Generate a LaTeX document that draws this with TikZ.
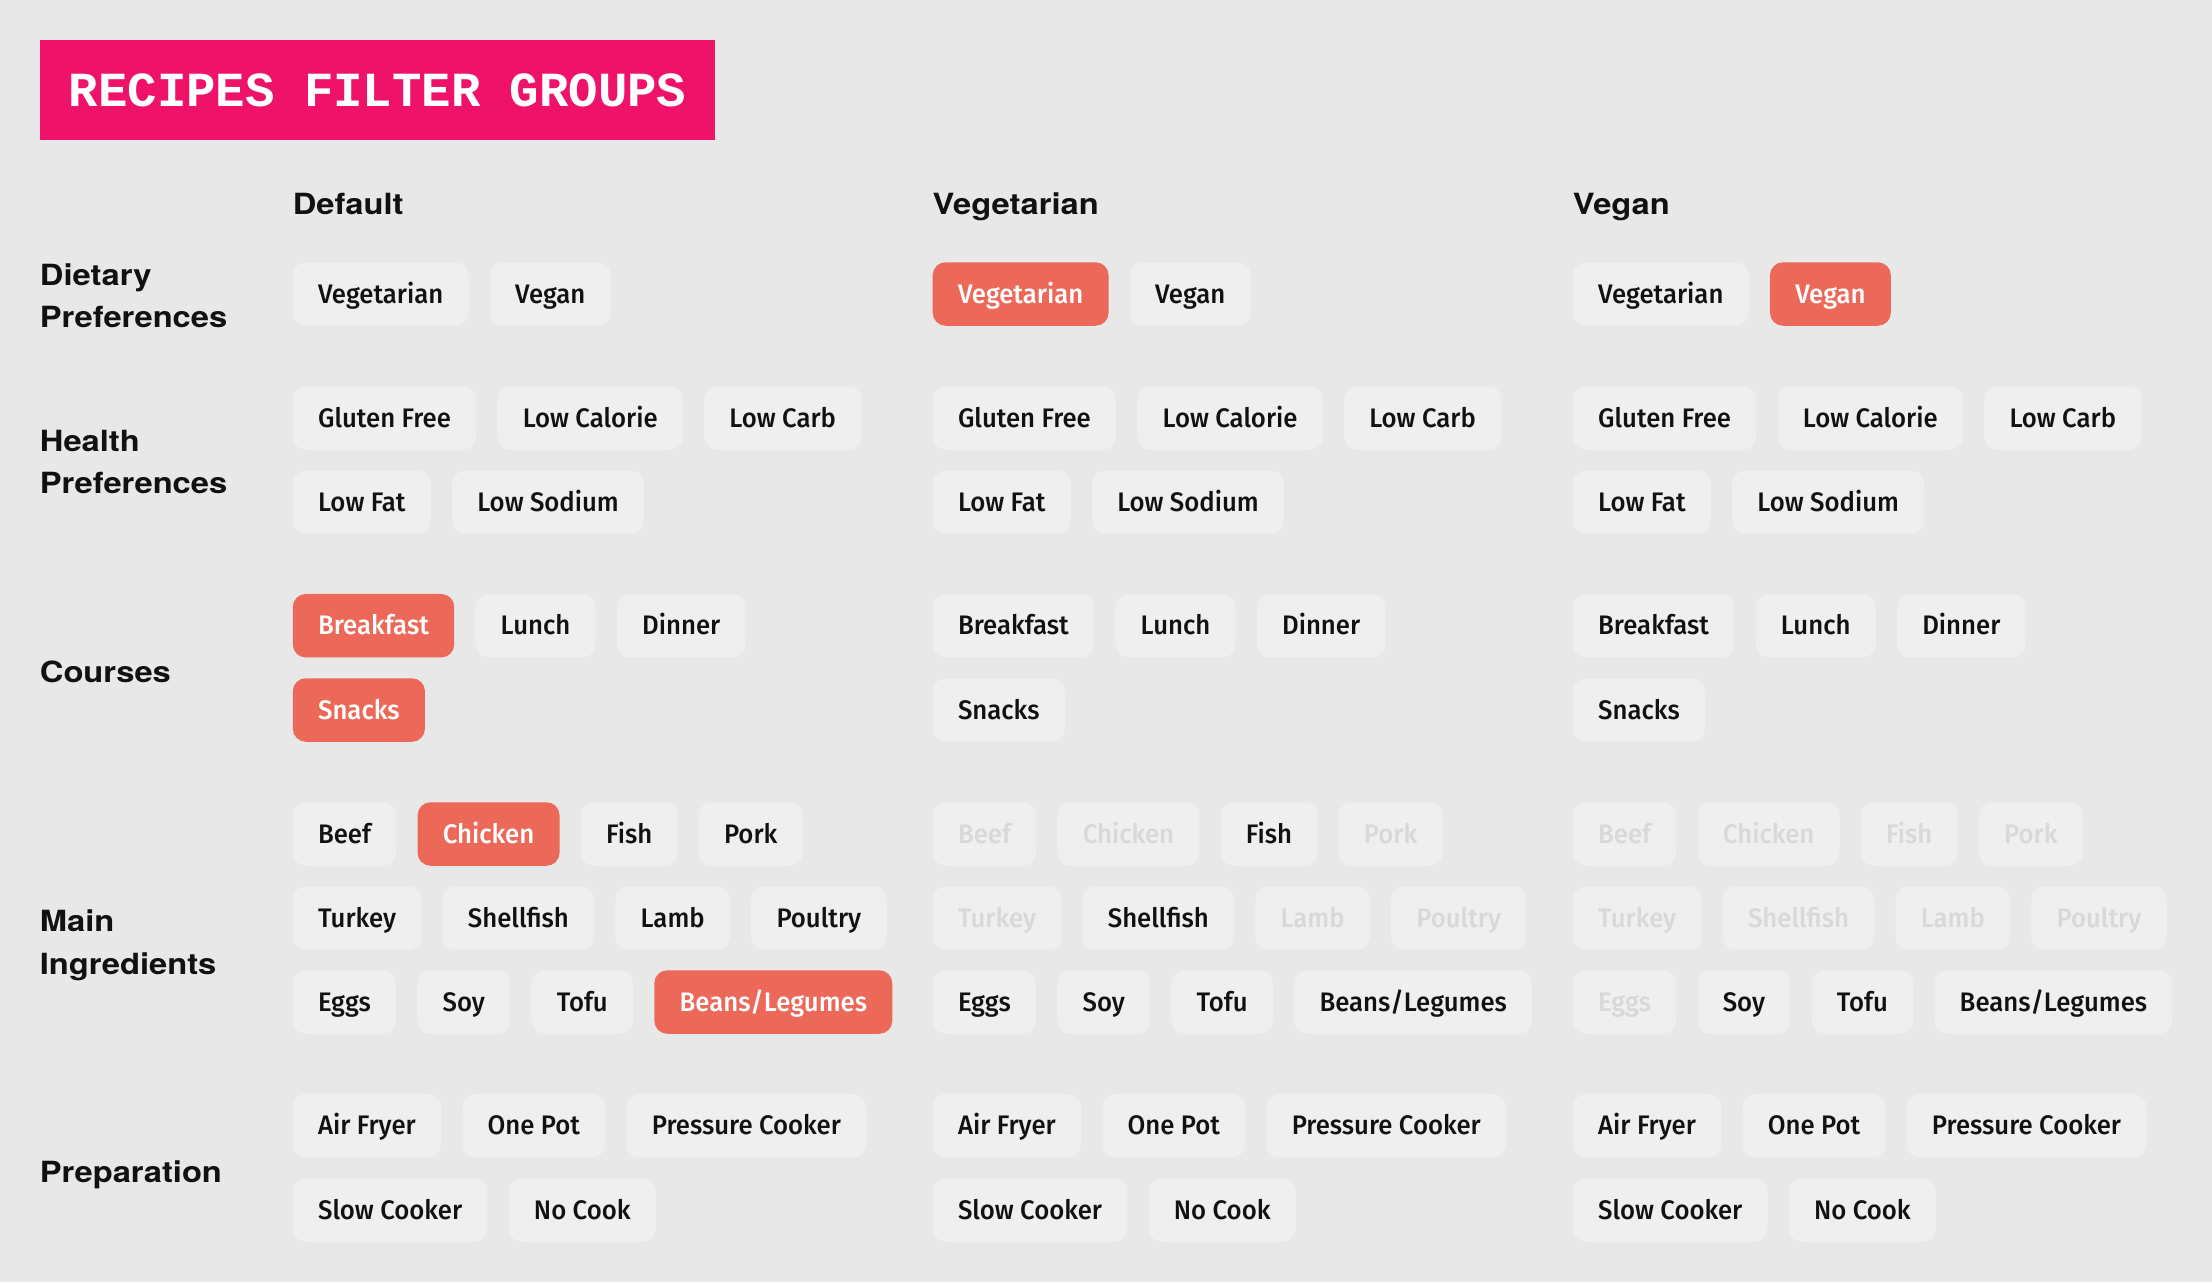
\documentclass[tikz,border=0pt]{standalone}
\usepackage{fontspec}
\usetikzlibrary{positioning}
\newfontfamily\chipfont[FakeStretch=0.96]{Fira Sans Medium}
\newfontfamily\headfont[FakeStretch=1.12]{TeX Gyre Heros}
\newfontfamily\titlefont{Liberation Mono}
\definecolor{pagebg}{HTML}{E8E8E8}
\definecolor{chipbg}{HTML}{EFEFEF}
\definecolor{coral}{HTML}{EC6959}
\definecolor{pink}{HTML}{EE1369}
\definecolor{faint}{HTML}{D8D8D8}
\definecolor{ink}{HTML}{111111}

\begin{document}
\begin{tikzpicture}[x=0.5pt, y=-0.5pt,
  chip/.style={rounded corners=6.5pt, fill=chipbg, text=ink, inner xsep=12.65pt, inner ysep=11.3pt,
    text height=9.15pt, text depth=0pt, font=\chipfont\fontsize{13.4}{16}\selectfont},
  chipon/.style={chip, fill=coral, text=white},
  chipoff/.style={chip, text=faint},
  colhead/.style={anchor=base west, inner sep=0pt, text=ink, font=\headfont\bfseries\fontsize{14.6}{21.3}\selectfont},
  rowlabel/.style={colhead, anchor=west, align=left, text depth=0pt}]
\fill[pagebg] (0,0) rectangle (2212,1282);
\node[fill=pink, text=white, anchor=north west, minimum width=337.75pt, minimum height=50.1pt,
  font=\titlefont\bfseries\fontsize{24.5}{28}\selectfont] (title) at (39.5,39.5) {RECIPES FILTER GROUPS};
% Column heads
\node[colhead] (hA) at (292.4,214) {Default};
\node[colhead] (hB) at (932.3,214) {Vegetarian};
\node[colhead] (hC) at (1572.5,214) {Vegan};
% Row labels
\node[rowlabel] (r1) at (39.5,295.5) {Dietary\\Preferences};
\node[rowlabel] (r2) at (39.5,462) {Health\\Preferences};
\node[rowlabel] (r3) at (39.5,671.4) {Courses};
\node[rowlabel] (r4) at (39.5,942) {Main\\Ingredients};
\node[rowlabel] (r5) at (39.5,1171.7) {Preparation};
% Default
\node[chip, anchor=west] (a1) at (292.4,294) {Vegetarian};
\node[chip, right=10.2pt of a1] (a2) {Vegan};
\node[chip, anchor=west] (a3) at (292.4,418) {Gluten Free};
\node[chip, right=10.2pt of a3] (a4) {Low Calorie};
\node[chip, right=10.2pt of a4] (a5) {Low Carb};
\node[chip, anchor=west] (a6) at (292.4,502.3) {Low Fat};
\node[chip, right=10.2pt of a6] (a7) {Low Sodium};
\node[chipon, anchor=west] (a8) at (292.4,625.7) {Breakfast};
\node[chip, right=10.2pt of a8] (a9) {Lunch};
\node[chip, right=10.2pt of a9] (a10) {Dinner};
\node[chipon, anchor=west] (a11) at (292.4,710) {Snacks};
\node[chip, anchor=west] (a12) at (292.4,834) {Beef};
\node[chipon, right=10.2pt of a12] (a13) {Chicken};
\node[chip, right=10.2pt of a13] (a14) {Fish};
\node[chip, right=10.2pt of a14] (a15) {Pork};
\node[chip, anchor=west] (a16) at (292.4,918) {Turkey};
\node[chip, right=10.2pt of a16] (a17) {Shellfish};
\node[chip, right=10.2pt of a17] (a18) {Lamb};
\node[chip, right=10.2pt of a18] (a19) {Poultry};
\node[chip, anchor=west] (a20) at (292.4,1002) {Eggs};
\node[chip, right=10.2pt of a20] (a21) {Soy};
\node[chip, right=10.2pt of a21] (a22) {Tofu};
\node[chipon, right=10.2pt of a22] (a23) {Beans/Legumes};
\node[chip, anchor=west] (a24) at (292.4,1125.7) {Air Fryer};
\node[chip, right=10.2pt of a24] (a25) {One Pot};
\node[chip, right=10.2pt of a25] (a26) {Pressure Cooker};
\node[chip, anchor=west] (a27) at (292.4,1210) {Slow Cooker};
\node[chip, right=10.2pt of a27] (a28) {No Cook};
% Vegetarian
\node[chipon, anchor=west] (b1) at (932.3,294) {Vegetarian};
\node[chip, right=10.2pt of b1] (b2) {Vegan};
\node[chip, anchor=west] (b3) at (932.3,418) {Gluten Free};
\node[chip, right=10.2pt of b3] (b4) {Low Calorie};
\node[chip, right=10.2pt of b4] (b5) {Low Carb};
\node[chip, anchor=west] (b6) at (932.3,502.3) {Low Fat};
\node[chip, right=10.2pt of b6] (b7) {Low Sodium};
\node[chip, anchor=west] (b8) at (932.3,625.7) {Breakfast};
\node[chip, right=10.2pt of b8] (b9) {Lunch};
\node[chip, right=10.2pt of b9] (b10) {Dinner};
\node[chip, anchor=west] (b11) at (932.3,710) {Snacks};
\node[chipoff, anchor=west] (b12) at (932.3,834) {Beef};
\node[chipoff, right=10.2pt of b12] (b13) {Chicken};
\node[chip, right=10.2pt of b13] (b14) {Fish};
\node[chipoff, right=10.2pt of b14] (b15) {Pork};
\node[chipoff, anchor=west] (b16) at (932.3,918) {Turkey};
\node[chip, right=10.2pt of b16] (b17) {Shellfish};
\node[chipoff, right=10.2pt of b17] (b18) {Lamb};
\node[chipoff, right=10.2pt of b18] (b19) {Poultry};
\node[chip, anchor=west] (b20) at (932.3,1002) {Eggs};
\node[chip, right=10.2pt of b20] (b21) {Soy};
\node[chip, right=10.2pt of b21] (b22) {Tofu};
\node[chip, right=10.2pt of b22] (b23) {Beans/Legumes};
\node[chip, anchor=west] (b24) at (932.3,1125.7) {Air Fryer};
\node[chip, right=10.2pt of b24] (b25) {One Pot};
\node[chip, right=10.2pt of b25] (b26) {Pressure Cooker};
\node[chip, anchor=west] (b27) at (932.3,1210) {Slow Cooker};
\node[chip, right=10.2pt of b27] (b28) {No Cook};
% Vegan
\node[chip, anchor=west] (c1) at (1572.5,294) {Vegetarian};
\node[chipon, right=10.2pt of c1] (c2) {Vegan};
\node[chip, anchor=west] (c3) at (1572.5,418) {Gluten Free};
\node[chip, right=10.2pt of c3] (c4) {Low Calorie};
\node[chip, right=10.2pt of c4] (c5) {Low Carb};
\node[chip, anchor=west] (c6) at (1572.5,502.3) {Low Fat};
\node[chip, right=10.2pt of c6] (c7) {Low Sodium};
\node[chip, anchor=west] (c8) at (1572.5,625.7) {Breakfast};
\node[chip, right=10.2pt of c8] (c9) {Lunch};
\node[chip, right=10.2pt of c9] (c10) {Dinner};
\node[chip, anchor=west] (c11) at (1572.5,710) {Snacks};
\node[chipoff, anchor=west] (c12) at (1572.5,834) {Beef};
\node[chipoff, right=10.2pt of c12] (c13) {Chicken};
\node[chipoff, right=10.2pt of c13] (c14) {Fish};
\node[chipoff, right=10.2pt of c14] (c15) {Pork};
\node[chipoff, anchor=west] (c16) at (1572.5,918) {Turkey};
\node[chipoff, right=10.2pt of c16] (c17) {Shellfish};
\node[chipoff, right=10.2pt of c17] (c18) {Lamb};
\node[chipoff, right=10.2pt of c18] (c19) {Poultry};
\node[chipoff, anchor=west] (c20) at (1572.5,1002) {Eggs};
\node[chip, right=10.2pt of c20] (c21) {Soy};
\node[chip, right=10.2pt of c21] (c22) {Tofu};
\node[chip, right=10.2pt of c22] (c23) {Beans/Legumes};
\node[chip, anchor=west] (c24) at (1572.5,1125.7) {Air Fryer};
\node[chip, right=10.2pt of c24] (c25) {One Pot};
\node[chip, right=10.2pt of c25] (c26) {Pressure Cooker};
\node[chip, anchor=west] (c27) at (1572.5,1210) {Slow Cooker};
\node[chip, right=10.2pt of c27] (c28) {No Cook};
\end{tikzpicture}
\end{document}
